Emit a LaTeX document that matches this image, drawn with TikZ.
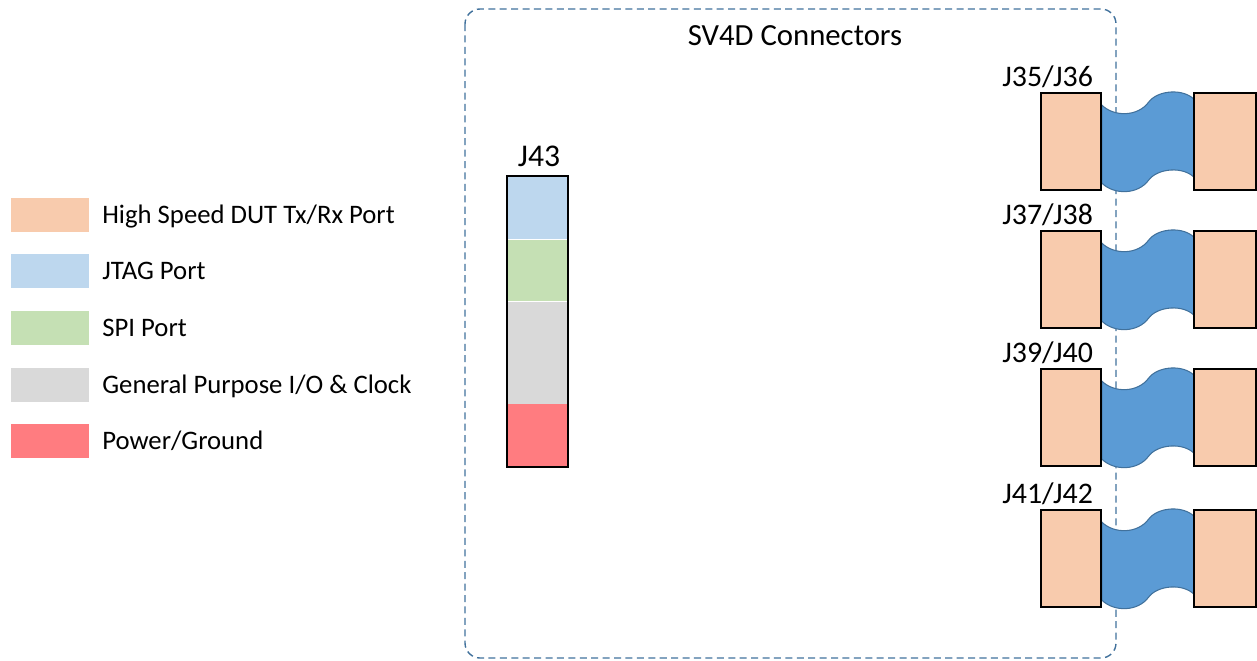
\documentclass[tikz,border=0pt]{standalone}
\usepackage{fontspec}
\setmainfont{Carlito}
\usetikzlibrary{positioning,backgrounds}

\begin{document}
\begin{tikzpicture}[x=0.02cm, y=-0.02cm,
    port/.style={draw=black, line width=1pt, fill=portColour, minimum width=1.2cm, minimum height=1.94cm, inner sep=0pt, anchor=north west},
    key/.style={fill=#1, minimum width=1.56cm, minimum height=0.68cm, inner sep=0pt, anchor=west},
    keytext/.style={anchor=base west, font=\fontsize{15.2}{18}\selectfont, inner sep=0pt},
    seg/.style={fill=#1, minimum width=1.2cm, inner sep=0pt},
    cable/.style={fill=cableFill, draw=cableEdge, line width=0.6pt},
    frame/.style={draw=frameColour, dashed, dash pattern=on 4pt off 2.5pt, line width=0.8pt, rounded corners=0.3cm},
    jlabel/.style={anchor=base west, font=\fontsize{17}{20}\selectfont, inner sep=0pt}]
    % Define colours
    \definecolor{portColour}{HTML}{F8CBAD}
    \definecolor{jtagColour}{HTML}{BDD7EE}
    \definecolor{spiColour}{HTML}{C5E0B4}
    \definecolor{gpioColour}{HTML}{D9D9D9}
    \definecolor{powerColour}{HTML}{FF7C80}
    \definecolor{cableFill}{HTML}{5B9BD5}
    \definecolor{cableEdge}{HTML}{41719C}
    \definecolor{frameColour}{HTML}{41719C}

    % Fix picture size
    \useasboundingbox (0,0) rectangle (1257,660);

    % Legend
    \foreach \i/\y/\c/\t in {1/214.5/portColour/{High Speed DUT Tx/Rx Port},
                             2/271/jtagColour/{JTAG Port},
                             3/328/spiColour/{SPI Port},
                             4/384.5/gpioColour/{General Purpose I/O \& Clock},
                             5/441/powerColour/{Power/Ground}}{
        \node[key=\c] (key\i) at (11,\y) {};
        \node[keytext] (keytext\i) at (102,\y+8.5) {\t};
    }

    % SV4D frame and title
    \begin{pgfonlayer}{background}
        \draw[frame] (465,9) rectangle (1116,658);
    \end{pgfonlayer}
    \node[font=\fontsize{17.5}{21}\selectfont, inner sep=0pt, anchor=base] (title) at (795,45) {SV4D Connectors};

    % Connector J43
    \node[seg=jtagColour, minimum height=1.26cm, anchor=north west] (jtag) at (507,176) {};
    \node[seg=spiColour, minimum height=1.22cm, below=0pt of jtag] (spi) {};
    \node[seg=gpioColour, minimum height=2.04cm, below=0pt of spi] (gpio) {};
    \node[seg=powerColour, minimum height=1.24cm, below=0pt of gpio] (power) {};
    \draw[line width=1pt] (jtag.north west) rectangle (power.south east);
    \node[jlabel, anchor=base, font=\fontsize{18}{21}\selectfont] (j43) at (539,166) {J43};

    % Connectors J35 to J42 with cables
    \foreach \i/\top/\a/\b in {1/92/35/36, 2/230/37/38, 3/368/39/40, 4/509/41/42}{
        \node[port] (L\i) at (1040,\top) {};
        \node[port, minimum width=1.24cm] (R\i) at (1193,\top) {};
        \node[jlabel] (T\i) at (1002,\top-6) {J\a/J\b};
        \begin{pgfonlayer}{background}
            \begin{scope}[shift={(L\i.north east)}]
                \filldraw[cable] (0,13) .. controls (12,25) and (36,25) .. (47,10)
                    .. controls (56,-2) and (82,-4) .. (93,8) -- (93,86)
                    .. controls (82,74) and (56,76) .. (47,88)
                    .. controls (36,103) and (12,103) .. (0,91) -- cycle;
            \end{scope}
        \end{pgfonlayer}
    }
\end{tikzpicture}
\end{document}
